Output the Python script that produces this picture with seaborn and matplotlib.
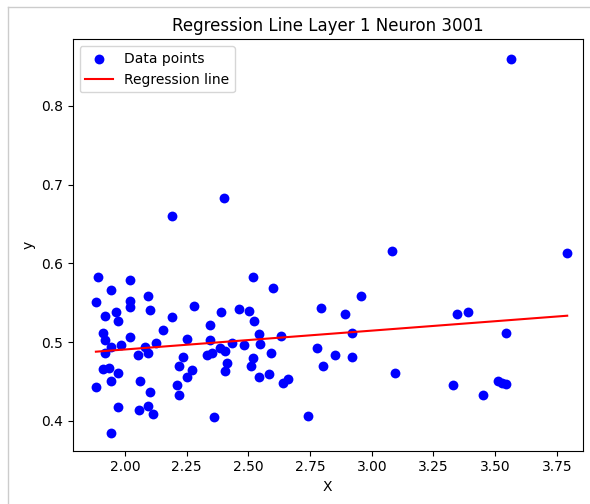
import matplotlib
matplotlib.use("Agg")
import matplotlib.pyplot as plt
from matplotlib.lines import Line2D
import seaborn as sns
import numpy as np

X = [1.892, 2.020, 1.942, 1.882, 2.020, 2.093, 2.020, 1.920, 1.964, 1.972,
     2.101, 2.280, 2.192, 2.153, 2.390, 2.344, 2.463, 2.501, 2.520, 2.601,
     2.521, 1.912, 1.920, 2.020, 1.942, 1.984, 1.920, 2.082, 2.093, 2.124,
     2.051, 2.250, 2.236, 2.344, 2.353, 2.331, 2.385, 2.404, 2.434, 2.482,
     2.543, 2.547, 2.631, 2.593, 2.520, 2.512, 2.412, 2.404, 2.273, 2.220,
     2.250, 1.912, 1.934, 1.972, 1.942, 1.882, 2.060, 2.101, 2.212, 2.220,
     1.972, 2.058, 2.093, 2.112, 2.361, 1.942, 2.542, 2.582, 2.641, 2.662,
     2.741, 2.793, 2.779, 2.801, 2.192, 2.402, 3.563, 3.081, 3.790, 2.955,
     2.890, 2.920, 2.851, 2.920, 3.094, 3.344, 3.391, 3.544, 3.330, 3.452,
     3.513, 3.526, 3.544]
Y = [0.582, 0.579, 0.566, 0.551, 0.552, 0.559, 0.544, 0.533, 0.538, 0.527,
     0.541, 0.546, 0.532, 0.515, 0.538, 0.522, 0.542, 0.539, 0.582, 0.569,
     0.527, 0.511, 0.503, 0.506, 0.494, 0.496, 0.486, 0.494, 0.486, 0.499,
     0.483, 0.504, 0.481, 0.503, 0.486, 0.483, 0.492, 0.488, 0.499, 0.496,
     0.510, 0.498, 0.508, 0.486, 0.480, 0.470, 0.473, 0.463, 0.464, 0.469,
     0.456, 0.466, 0.467, 0.461, 0.451, 0.443, 0.450, 0.436, 0.445, 0.433,
     0.417, 0.414, 0.419, 0.408, 0.405, 0.385, 0.456, 0.459, 0.448, 0.453,
     0.406, 0.543, 0.493, 0.470, 0.660, 0.683, 0.860, 0.615, 0.613, 0.558,
     0.535, 0.512, 0.483, 0.481, 0.461, 0.535, 0.538, 0.511, 0.446, 0.433,
     0.450, 0.448, 0.447]

reg_x = [1.882, 3.792]
reg_y = [0.4877, 0.5334]

title = "Regression Line Layer 1 Neuron 3001"
xlabel = "X"
ylabel = "y"

fig = plt.figure(figsize=(5.9, 5.04), dpi=100)
ax = fig.add_axes([72.7 / 590, (504 - 450.7) / 504, (582.5 - 72.7) / 590, (450.7 - 39.3) / 504])

sns.scatterplot(x=X, y=Y, ax=ax, color="blue", s=50, linewidth=0, label="Data points", zorder=2)
sns.lineplot(x=reg_x, y=reg_y, ax=ax, color="red", linewidth=1.5, label="Regression line", zorder=3)

ax.set_xlim(1.788, 3.854)
ax.set_ylim(0.3619, 0.8846)
ax.set_xticks([2.0, 2.25, 2.5, 2.75, 3.0, 3.25, 3.5, 3.75])
ax.set_yticks([0.4, 0.5, 0.6, 0.7, 0.8])
ax.set_title(title, fontsize=12)
ax.set_xlabel(xlabel)
ax.set_ylabel(ylabel)
ax.legend(loc="upper left")

fig.add_artist(Line2D([8 / 590, 8 / 590], [0, 1 - 7 / 504], transform=fig.transFigure, color="#cccccc", linewidth=1))
fig.add_artist(Line2D([8 / 590, 1], [1 - 7 / 504, 1 - 7 / 504], transform=fig.transFigure, color="#cccccc", linewidth=1))

fig.savefig("out.png", dpi=100)
